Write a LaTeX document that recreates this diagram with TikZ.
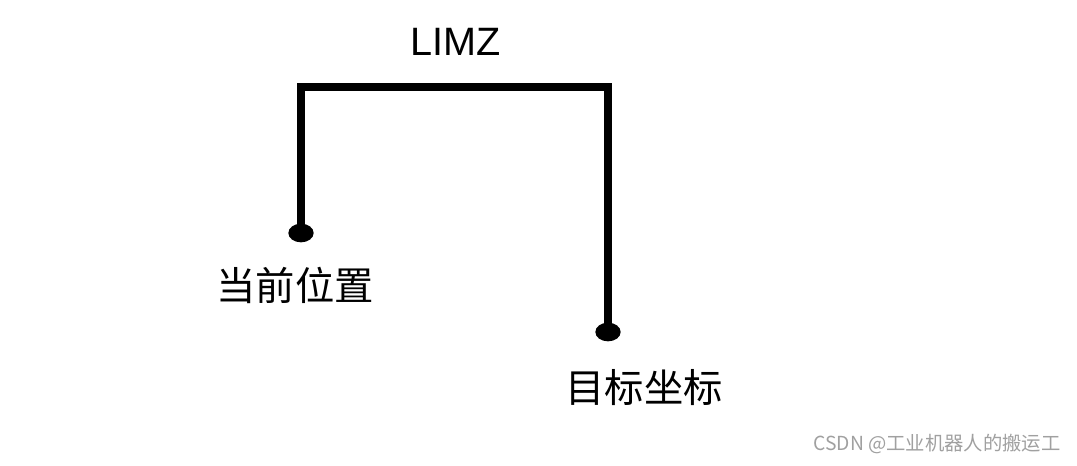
\documentclass[tikz,border=0pt]{standalone}
\usepackage{fontspec}
\setmainfont{Liberation Sans}
\newfontfamily\cjk{Noto Sans CJK SC}
\usetikzlibrary{shapes.geometric}

\tikzset{every picture/.style={line width=0.75pt}}
\tikzset{
	pathline/.style={line width=6pt, line join=miter},
	enddot/.style={ellipse, fill=black, inner sep=0pt, minimum width=19pt, minimum height=14pt},
	labeltext/.style={inner sep=0.75pt, font=\cjk\fontsize{29.5}{31}\selectfont},
}

\begin{document}
\begin{tikzpicture}[x=0.75pt,y=0.75pt,yscale=-1,xscale=1]
				\useasboundingbox (0,0) rectangle (1077,465);
				
				%End points
				\node [enddot] (cur) at (301,233) {};
				\node [enddot] (tgt) at (608,332) {};
				\coordinate (corner) at (301,87);
				
				%Straight Lines
				\draw [pathline] (cur.center) -- (corner) -| (tgt.center);
				
				% Text Node
				\node [inner sep=0.75pt, font=\fontsize{29.7}{32}\selectfont] (limz) at (456,42) {LIMZ};
				% Text Node
				\node [labeltext] (curlabel) at (295,285) {当前位置};
				% Text Node
				\node [labeltext] (tgtlabel) at (644,388) {目标坐标};
				% Text Node
				\node [inner sep=0pt, text={rgb,255:red,160;green,160;blue,160}, font=\cjk\fontsize{14.5}{16}\selectfont] (mark) at (937,444) {CSDN @工业机器人的搬运工};
				
			\end{tikzpicture}
\end{document}
